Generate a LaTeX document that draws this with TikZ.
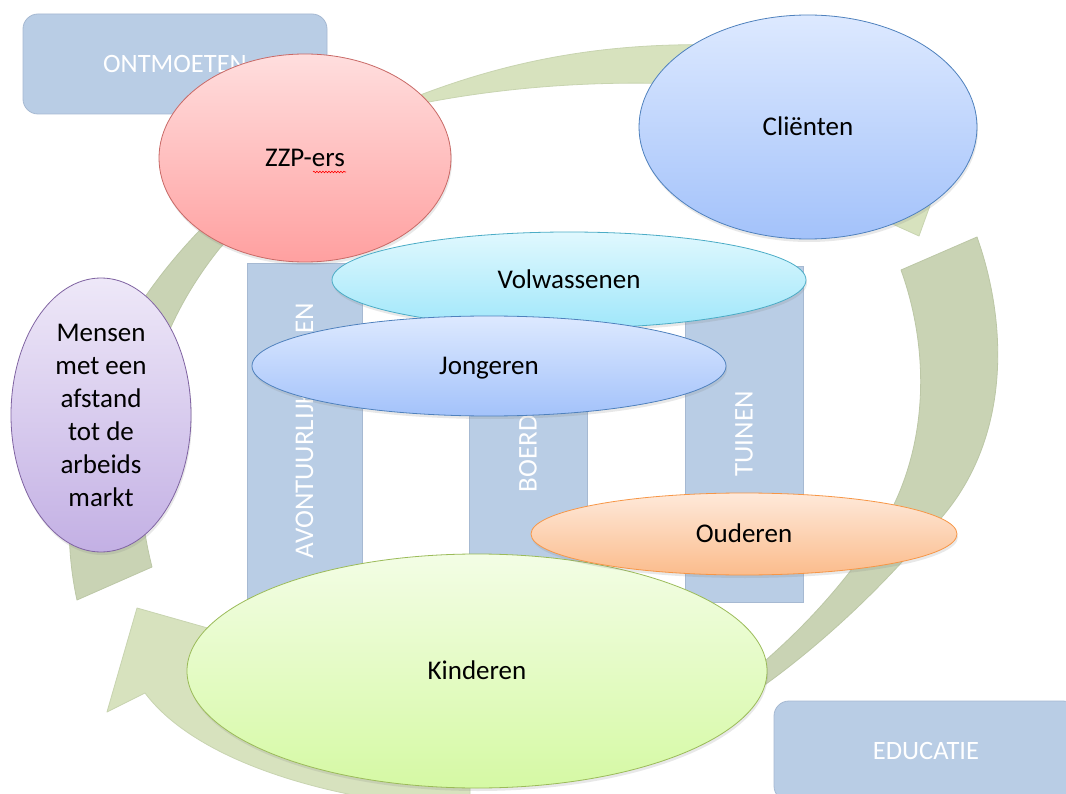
\documentclass[tikz,border=0pt]{standalone}
\usepackage{fontspec}
\setmainfont{Carlito}
\usetikzlibrary{shapes.geometric,shadows,decorations.pathmorphing}
\definecolor{arcL}{RGB}{215,226,190}
\definecolor{arcLb}{RGB}{200,212,176}
\definecolor{arcD}{RGB}{201,211,180}
\definecolor{arcDb}{RGB}{188,199,166}
\definecolor{pillarF}{RGB}{185,205,229}
\definecolor{pillarB}{RGB}{166,185,210}
\definecolor{zzpT}{RGB}{255,222,222}\definecolor{zzpB}{RGB}{255,160,160}\definecolor{zzpD}{RGB}{200,105,102}
\definecolor{cliT}{RGB}{221,233,255}\definecolor{cliB}{RGB}{163,194,250}\definecolor{cliD}{RGB}{79,129,189}
\definecolor{volT}{RGB}{224,248,254}\definecolor{volB}{RGB}{160,231,250}\definecolor{volD}{RGB}{75,172,198}
\definecolor{menT}{RGB}{238,232,248}\definecolor{menB}{RGB}{195,176,228}\definecolor{menD}{RGB}{128,100,162}
\definecolor{oudT}{RGB}{254,233,218}\definecolor{oudB}{RGB}{251,188,140}\definecolor{oudD}{RGB}{247,150,70}
\definecolor{kinT}{RGB}{243,253,229}\definecolor{kinB}{RGB}{213,249,164}\definecolor{kinD}{RGB}{155,187,89}
\begin{document}
\begin{tikzpicture}[x=1pt,y=-1pt,
  bubble/.style={ellipse, line width=0.8pt, inner sep=0pt, text=black,
    font=\fontsize{27}{33}\selectfont, text height=17.4pt, text depth=0pt,
    drop shadow={opacity=0.18, shadow xshift=1pt, shadow yshift=-3pt}},
  pillar/.style={rectangle, draw=pillarB, fill=pillarF, line width=0.8pt, inner sep=0pt,
    rotate=90, text=white, font=\fontsize{27}{33}\selectfont, text height=17.4pt, text depth=0pt},
  tab/.style={rectangle, draw=pillarB, fill=pillarF, line width=0.8pt, rounded corners=15pt,
    inner sep=0pt, text=white, font=\fontsize{26.5}{32}\selectfont, text height=17pt, text depth=0pt},
  arcl/.style={fill=arcL, draw=arcLb, line width=0.8pt, line join=round},
  arcd/.style={fill=arcD, draw=arcDb, line width=0.8pt, line join=round}]
\useasboundingbox (0,0) rectangle (1066,794);
\fill[white] (0,0) rectangle (1066,794);

% circular arrows
\path[arcl] (400,103) .. controls (500,62) and (600,42) .. (720,45)
  .. controls (830,48) and (910,120) .. (928,180) -- (937,186) -- (919,236) -- (868,213) -- (878,196)
  .. controls (850,130) and (760,84) .. (680,84) .. controls (580,80) and (480,90) .. (400,108) -- cycle;
\path[arcd] (901,270) -- (977,237) .. controls (1010,330) and (1010,450) .. (930,530)
  .. controls (880,590) and (820,645) .. (766,684) -- (750,695) -- (750,672) -- (766,660)
  .. controls (800,630) and (840,590) .. (880,530) .. controls (930,450) and (930,350) .. (901,270) -- cycle;
\path[arcl] (470,770) .. controls (380,765) and (270,720) .. (235,660) -- (250,640) -- (137,608)
  -- (107,712) -- (145,693) .. controls (180,740) and (260,780) .. (380,800) -- (470,800) -- cycle;
\path[arcd] (77,600) .. controls (55,500) and (75,360) .. (200,230) -- (235,195) -- (255,212)
  -- (220,248) .. controls (130,360) and (130,480) .. (152,567) -- cycle;

% labels in boxes
\node[tab, minimum width=304pt, minimum height=100pt] (ontm) at (175,64) {ONTMOETEN};
\node[tab, minimum width=304pt, minimum height=100pt] (educ) at (926,751) {EDUCATIE};

% pillars
\node[pillar, minimum width=335pt, minimum height=115pt] (avon) at (304.5,430.5) {AVONTUURLIJK SPELEN};
\node[pillar, minimum width=336pt, minimum height=118pt] (boer) at (528,432) {BOERDERIJ};
\node[pillar, minimum width=336pt, minimum height=118pt] (tuin) at (744,434) {TUINEN};

% groups
\node[bubble, draw=menD, top color=menT, bottom color=menB, minimum width=180pt, minimum height=274pt,
  align=center, text height=, text depth=] (mens) at (101,415)
  {Mensen\\met een\\afstand\\tot de\\arbeids\\markt};
\node[bubble, draw=zzpD, top color=zzpT, bottom color=zzpB, minimum width=292pt, minimum height=208pt] (zzp) at (305,158) {ZZP-ers};
\draw[red, line width=0.6pt, decorate, decoration={snake, amplitude=0.8pt, segment length=3pt}]
  (313,172) -- (346,172);
\node[bubble, draw=cliD, top color=cliT, bottom color=cliB, minimum width=338pt, minimum height=224pt] (cli) at (808,127) {Cliënten};
\node[bubble, draw=volD, top color=volT, bottom color=volB, minimum width=474pt, minimum height=96pt] (vol) at (569,280) {Volwassenen};
\node[bubble, draw=cliD, top color=cliT, bottom color=cliB, minimum width=474pt, minimum height=100pt] (jon) at (489,366) {Jongeren};
\node[bubble, draw=kinD, top color=kinT, bottom color=kinB, minimum width=580pt, minimum height=234pt] (kin) at (477,671) {Kinderen};
\node[bubble, draw=oudD, top color=oudT, bottom color=oudB, minimum width=426pt, minimum height=82pt] (oud) at (744,534) {Ouderen};
\end{tikzpicture}
\end{document}
